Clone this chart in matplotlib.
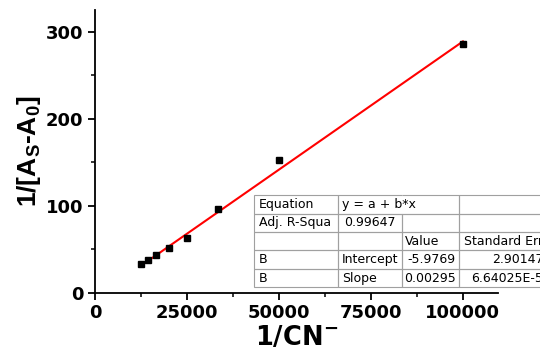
import matplotlib
matplotlib.use("Agg")
import matplotlib.pyplot as plt
from matplotlib.table import Table
from matplotlib.ticker import MultipleLocator

plt.rcParams['font.family'] = ['DejaVu Sans']
plt.rcParams['mathtext.default'] = 'regular'

# data (1/[CN-] vs 1/(As-A0))
cn_inv = [12500, 14286, 16667, 20000, 25000, 33333, 50000, 100000]
inv_abs = [32.5, 37.5, 43.3, 51.0, 62.5, 96.3, 152.9, 286.4]

# linear fit reported in the table
intercept = -5.9769
slope = 0.00295

table_rows = [
    ["Equation", "y = a + b*x", "", ""],
    ["Adj. R-Squa", "0.99647", "", ""],
    ["", "", "Value", "Standard Err"],
    ["B", "Intercept", "-5.9769", "2.90147"],
    ["B", "Slope", "0.00295", "6.64025E-5"],
]

fig = plt.figure(figsize=(5.4, 3.5), dpi=100)
ax = fig.add_axes([0.176, 0.164, 0.746, 0.807])

ax.plot(cn_inv, inv_abs, 's', color='black', markersize=4.5, zorder=3)
x_fit = [min(cn_inv), max(cn_inv)]
y_fit = [intercept + slope * x for x in x_fit]
ax.plot(x_fit, y_fit, color='red', linewidth=1.5, zorder=2)

ax.set_xlim(0, 109500)
ax.set_ylim(0, 325)
ax.xaxis.set_major_locator(MultipleLocator(25000))
ax.xaxis.set_minor_locator(MultipleLocator(12500))
ax.yaxis.set_major_locator(MultipleLocator(100))
ax.yaxis.set_minor_locator(MultipleLocator(50))
ax.spines['top'].set_visible(False)
ax.spines['right'].set_visible(False)
for s in ['left', 'bottom']:
    ax.spines[s].set_linewidth(1.3)
ax.tick_params(which='major', direction='out', length=5, width=1.3, labelsize=13)
ax.tick_params(which='minor', direction='out', length=3, width=1.1)
for lab in ax.get_xticklabels() + ax.get_yticklabels():
    lab.set_fontweight('bold')

ax.set_xlabel(r'1/CN$^{-}$', fontsize=18.5, fontweight='bold', labelpad=2)
ax.set_ylabel(r'1/[A$_S$-A$_0$]', fontsize=19, fontweight='bold', labelpad=2,
              family='Liberation Sans')

# fit results table
tb = Table(ax, bbox=[0.3945, 0.0184, 0.732, 0.3267])
widths = [84, 64, 57, 90]
locs = [
    ['left', 'left', 'left', 'left'],
    ['left', 'center', 'left', 'left'],
    ['left', 'left', 'left', 'left'],
    ['left', 'left', 'right', 'right'],
    ['left', 'left', 'right', 'right'],
]
for r, row in enumerate(table_rows):
    for c, txt in enumerate(row):
        cell = tb.add_cell(r, c, widths[c], 1, text=txt, loc=locs[r][c],
                           edgecolor='#a0a0a0', facecolor='none')
        cell.set_linewidth(0.8)
        cell.get_text().set_fontsize(9)
        cell.PAD = 0.06
        cell.set_clip_on(False)
        cell.get_text().set_clip_on(False)
        if r == 0 and c == 1:
            cell.visible_edges = 'BTL'
        if r == 0 and c == 2:
            cell.visible_edges = 'BTR'
tb.auto_set_font_size(False)
tb.set_clip_on(False)
ax.add_table(tb)

fig.savefig('out.png', dpi=100)
